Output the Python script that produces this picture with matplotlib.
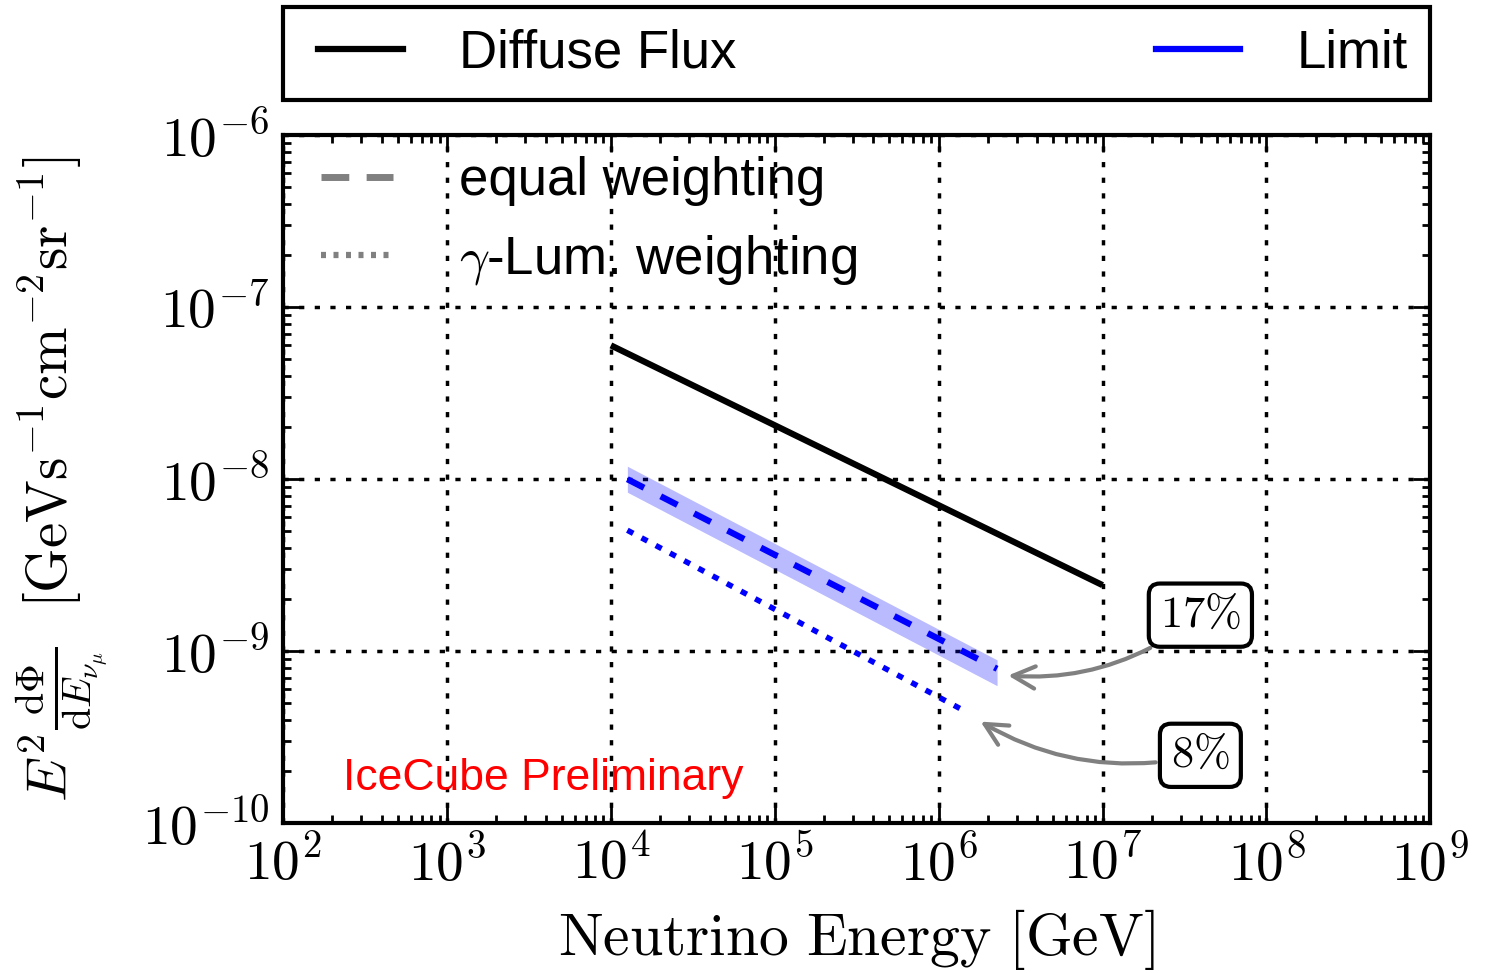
"""
IceCube stacking limit vs diffuse neutrino flux.
"""

import math

import matplotlib
matplotlib.use("Agg")
import matplotlib.pyplot as plt
from matplotlib.lines import Line2D
from matplotlib.patches import Rectangle
from matplotlib.ticker import LogLocator, FuncFormatter, NullFormatter

plt.rcParams["font.family"] = ["Liberation Sans", "DejaVu Sans"]
plt.rcParams["mathtext.fontset"] = "cm"

# values
diffuse_energy = [1.0e4, 1.0e7]
diffuse_flux = [6.0e-8, 2.42e-9]

equal_energy = [1.26e4, 2.27e6]
equal_flux = [1.0e-8, 7.9e-10]
equal_upper = [1.19e-8, 8.9e-10]
equal_lower = [8.4e-9, 6.3e-10]

gamma_energy = [1.26e4, 1.49e6]
gamma_flux = [5.05e-9, 4.41e-10]

labels_pct = ["17%", "8%"]
label_pos = [(3.95e7, 1.62e-9), (3.95e7, 2.48e-10)]
arrow_tip = [(2.55e6, 7.24e-10), (1.74e6, 3.97e-10)]

xlim = (1e2, 1e9)
ylim = (1e-10, 1e-6)


def sci_label(v, pos):
    exp = int(round(math.log10(v)))
    return r"$\mathrm{10^{%d}}$" % exp


def main():
    fig = plt.figure(figsize=(14.9, 9.73), dpi=100)
    ax = fig.add_axes([0.190, 0.154, 0.770, 0.707])

    ax.fill_between(equal_energy, equal_lower, equal_upper, color="#0000ff", alpha=0.27, lw=0)
    ax.plot(diffuse_energy, diffuse_flux, color="black", lw=4.5, solid_capstyle="butt")
    ax.plot(equal_energy, equal_flux, color="#0000ff", lw=4.5, dashes=(3, 3))
    ax.plot(gamma_energy, gamma_flux, color="#0000ff", lw=4, dashes=(1.2, 1.7))

    ax.set_xscale("log")
    ax.set_yscale("log")
    ax.set_xlim(*xlim)
    ax.set_ylim(*ylim)

    for axis in (ax.xaxis, ax.yaxis):
        axis.set_major_locator(LogLocator(base=10, numticks=20))
        axis.set_minor_locator(LogLocator(base=10, subs=range(2, 10), numticks=20))
        axis.set_major_formatter(FuncFormatter(sci_label))
        axis.set_minor_formatter(NullFormatter())

    ax.tick_params(which="both", direction="in", top=True, right=True, labelsize=40, width=2)
    ax.tick_params(which="major", length=12, pad=10)
    ax.tick_params(which="minor", length=6)
    for sp in ax.spines.values():
        sp.set_linewidth(3)

    ax.set_axisbelow(True)
    ax.grid(True, which="major", color="black", linestyle=(0, (1.5, 3)), lw=2.5)

    ax.set_xlabel(r"$\mathrm{Neutrino\ Energy\ [GeV]}$", fontsize=43, labelpad=10)
    ax.set_ylabel(r"$E^2\frac{\mathrm{d}\Phi}{\mathrm{d}E_{\nu_\mu}}\ \ [\mathrm{GeV s^{-1} cm^{-2} sr^{-1}}]$",
                  fontsize=41)
    ax.yaxis.set_label_coords(-0.152, 0.5)

    # inner legend: weighting schemes
    weight_handles = [
        Line2D([], [], color="gray", lw=5, dashes=(4, 2.5)),
        Line2D([], [], color="gray", lw=4.5, dashes=(0.8, 1.2)),
    ]
    ax.legend(weight_handles, ["equal weighting", r"$\gamma$-Lum. weighting"],
              loc="upper left", bbox_to_anchor=(0.015, 1.0), frameon=False, fontsize=38,
              handlelength=1.35, handletextpad=1.25, labelspacing=0.5, borderaxespad=0)

    # top legend in its own box above the axes
    rect = Rectangle((0, 1.051), 1, 0.135, transform=ax.transAxes, fill=False,
                     lw=3, ec="black", clip_on=False)
    ax.add_artist(rect)
    top_handles = [
        Line2D([], [], color="black", lw=4.5),
        Line2D([], [], color="#0000ff", lw=4.5),
    ]
    fig.legend(top_handles, ["Diffuse Flux", "Limit"], loc="center",
               bbox_to_anchor=(0.0305, 1.051, 0.950, 0.135),
               bbox_transform=ax.transAxes, mode="expand", ncol=2,
               frameon=False, fontsize=38, handlelength=1.6,
               handletextpad=1.07, borderpad=0, borderaxespad=0)

    for txt, pos, tip in zip(labels_pct, label_pos, arrow_tip):
        ax.annotate(r"$\mathrm{%s}$" % txt.replace("%", r"\%"), xy=tip, xytext=pos,
                    ha="center", va="center", fontsize=32,
                    bbox=dict(boxstyle="round,pad=0.25", fc="white", ec="black", lw=3),
                    arrowprops=dict(arrowstyle="->", connectionstyle="arc3,rad=-0.2",
                                    color="gray", lw=3, mutation_scale=40))

    ax.text(0.052, 0.048, "IceCube Preliminary", color="red", fontsize=32,
            transform=ax.transAxes, ha="left", va="baseline")

    fig.savefig("out.png", dpi=100)


if __name__ == "__main__":
    main()
